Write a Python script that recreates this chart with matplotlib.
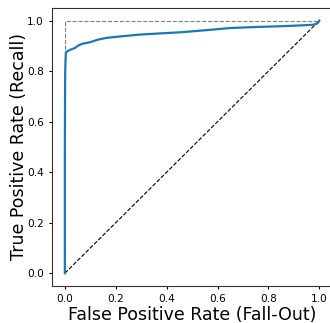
import numpy as np
import matplotlib
matplotlib.use('Agg')
import matplotlib.pyplot as plt

# ROC curve points
fpr = [0.0, 0.0, 0.001, 0.002, 0.004, 0.008, 0.015, 0.024, 0.04, 0.05,
       0.066, 0.1, 0.13, 0.164, 0.22, 0.295, 0.38, 0.453, 0.55, 0.65,
       0.75, 0.846, 0.92, 0.976, 0.99, 0.997, 1.0]
tpr = [0.0, 0.5, 0.78, 0.826, 0.873, 0.878, 0.882, 0.886, 0.892, 0.9,
       0.908, 0.915, 0.925, 0.932, 0.938, 0.945, 0.950, 0.954, 0.962, 0.971,
       0.975, 0.978, 0.981, 0.984, 0.988, 0.995, 1.0]

fig = plt.figure(figsize=(3.3, 3.23), dpi=100)
ax = fig.add_axes([0.158, 0.115, 0.848, 0.86])

ax.plot([0, 0, 1], [0, 1, 1], color='grey', linestyle='--', linewidth=0.8)
ax.plot([0, 1], [0, 1], 'k--', linewidth=0.8)
ax.plot(fpr, tpr, color='#1f77b4', linewidth=1.6)

ax.set_xlim(-0.05, 1.05)
ax.set_ylim(-0.05, 1.05)
ax.set_xticks([0, 0.2, 0.4, 0.6, 0.8, 1.0])
ax.set_yticks([0, 0.2, 0.4, 0.6, 0.8, 1.0])
ax.tick_params(labelsize=7.6, length=2.5, width=0.8)
for s in ax.spines.values():
    s.set_color('#333333')
ax.set_xlabel('False Positive Rate (Fall-Out)', fontsize=12.5, labelpad=1)
ax.set_ylabel('True Positive Rate (Recall)', fontsize=12.5, labelpad=-1)

plt.savefig('out.png', dpi=100)
